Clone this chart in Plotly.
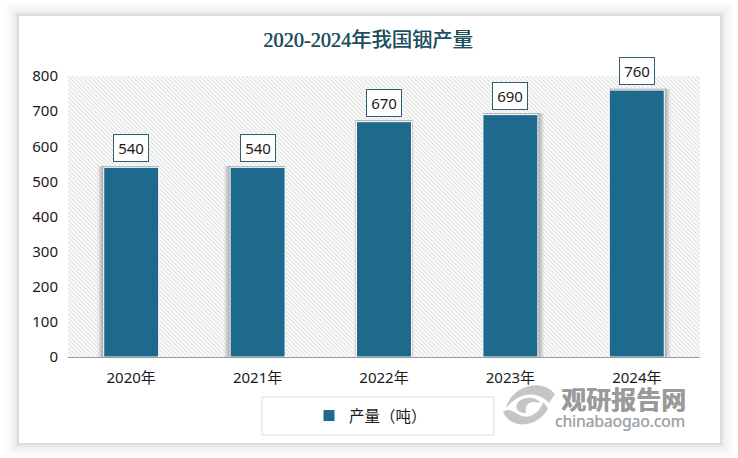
import plotly.graph_objects as go

years = ["2020年", "2021年", "2022年", "2023年", "2024年"]
output = [540, 540, 670, 690, 760]
y_ticks = [0, 100, 200, 300, 400, 500, 600, 700, 800]

title_text = "2020-2024年我国铟产量"
series_name = "产量（吨）"
bar_color = "#1d6a8d"
label_border = "#2f6070"
sans = "'Noto Sans', 'Noto Sans CJK SC', sans-serif"
bar_width = 0.435

W, H = 738, 458
L, R, T, B = 68, 700, 76, 357

# watermark logo outlines in picture pixels: start point, then cubic segments
swirl = [
    [(506, 408), ((510, 388), (540, 376), (555, 394)), ((553, 397), (551, 400), (549, 403)), ((538, 391), (520, 391), (506, 408))],
    [(503, 412), ((512, 405), (518, 420), (530, 416)), ((537, 414), (541, 408), (543, 402)), ((545, 404), (546, 406), (548, 408)), ((540, 426), (512, 432), (503, 412))],
    [(516, 407), ((518, 396), (535, 395), (541, 403)), ((534, 401), (524, 401), (526, 413)), ((521, 413), (517, 411), (516, 407))],
]


def px_x(x):
    return (x - L) / (R - L)


def px_y(y):
    return (B - y) / (B - T)


def box(x0, y0, x1, y1, **kw):
    return dict(type="rect", xref="paper", yref="paper", x0=px_x(x0), x1=px_x(x1),
                y0=px_y(y0), y1=px_y(y1), **kw)


def pt(p):
    return f"{px_x(p[0]):.4f},{px_y(p[1]):.4f}"


def swirl_path(outline):
    path = "M " + pt(outline[0])
    for c1, c2, end in outline[1:]:
        path += f" C {pt(c1)} {pt(c2)} {pt(end)}"
    return path + " Z"


fig = go.Figure()

# hatched plot background, one wide bar over all the categories
fig.add_trace(go.Bar(
    x=[years[2]], y=[y_ticks[-1]], width=[len(years)], showlegend=False, hoverinfo="skip",
    marker=dict(color="white", line_width=0,
                pattern=dict(shape="\\", size=3, solidity=0.4, fgcolor="#bdbdbd", bgcolor="white")),
))

# soft bar shadows, on the side facing away from the middle of the chart
for spread, alpha in [(0.05, 0.05), (0.04, 0.07), (0.03, 0.09), (0.02, 0.11), (0.01, 0.13)]:
    widths, offsets = [], []
    for i in range(len(years)):
        if i < 2:
            widths.append(bar_width + spread)
            offsets.append(-bar_width / 2 - spread)
        elif i > 2:
            widths.append(bar_width + spread)
            offsets.append(-bar_width / 2)
        else:
            widths.append(bar_width + spread * 0.6)
            offsets.append(-bar_width / 2 - spread * 0.3)
    fig.add_trace(go.Bar(
        x=years, y=[v + 4 for v in output], width=widths, offset=offsets, showlegend=False, hoverinfo="skip",
        marker=dict(color=f"rgba(50,50,50,{alpha})", line_width=0),
    ))

fig.add_trace(go.Bar(
    x=years, y=output, name=series_name, width=bar_width,
    marker=dict(color=bar_color, line=dict(color="white", width=1)),
))

# value labels in their small boxes
for year, value in zip(years, output):
    fig.add_annotation(
        x=year, y=value, yshift=19, yref="y", xref="x", showarrow=False, text=str(value),
        font=dict(family=sans, size=15, color="#1a1a1a"), bgcolor="white",
        bordercolor=label_border, borderwidth=1, borderpad=3, width=28, height=20,
    )

# card with its drop shadow
shapes = []
for grow, alpha in [(13, 0.012), (10, 0.018), (7, 0.025), (4, 0.035), (2, 0.05)]:
    shapes.append(box(19 - grow, 16 - grow, 720 + grow, 443 + grow, fillcolor=f"rgba(0,0,0,{alpha})",
                      line_width=0, layer="below"))
shapes.append(box(19, 16, 720, 443, fillcolor="white", line_width=0, layer="below"))
# legend frame
shapes.append(box(262, 397, 494, 435, fillcolor="rgba(0,0,0,0)", line=dict(color="#dcdcdc", width=1), layer="below"))

for outline in swirl:
    shapes.append(dict(type="path", xref="paper", yref="paper", path=swirl_path(outline),
                       fillcolor="#c4c6c6", line_width=0, layer="above"))

fig.add_annotation(xref="paper", yref="paper", x=px_x(623), y=px_y(398), xanchor="center", yanchor="middle",
                   showarrow=False, text="<b>观研报告网</b>",
                   font=dict(family="'Noto Sans CJK SC'", size=25, color="#9a9a9a", shadow="0.5px 0 0 #9a9a9a"))
fig.add_annotation(xref="paper", yref="paper", x=px_x(620), y=px_y(421), xanchor="center", yanchor="middle",
                   showarrow=False, text="chinabaogao.com",
                   font=dict(family=sans, size=15.5, color="#a2a6a8", shadow="0.3px 0 0 #a2a6a8"))

fig.update_layout(
    width=W, height=H,
    margin=dict(l=L, r=W - R, t=T, b=H - B, autoexpand=False),
    paper_bgcolor="white", plot_bgcolor="white",
    barmode="overlay", shapes=shapes,
    font=dict(family=sans, size=15, color="#1a1a1a"),
    title=dict(text=title_text, x=368 / W, xanchor="center", y=1 - 40 / H, yanchor="middle",
               font=dict(family="'Liberation Serif', 'Noto Sans CJK SC', serif", size=20.3, color="#1c4f60",
                         shadow="0.4px 0 0 #1c4f60")),
    legend=dict(orientation="h", x=px_x(309), y=px_y(416), xanchor="left", yanchor="middle",
                bgcolor="rgba(0,0,0,0)", font=dict(size=15.5)),
    xaxis=dict(type="category", categoryorder="array", categoryarray=years, range=[-0.5, 4.5],
               showgrid=False, showline=True, linecolor="#9a9a9a", linewidth=1, ticks="",
               tickfont_size=15, ticklabelstandoff=7),
    yaxis=dict(range=[0, 800], tickvals=y_ticks, showgrid=False, zeroline=False, showline=False,
               ticks="", tickfont_size=15, ticklabelstandoff=9),
)

fig.write_html("out.html", post_script="document.body.style.margin='0';", config=dict(displayModeBar=False))
